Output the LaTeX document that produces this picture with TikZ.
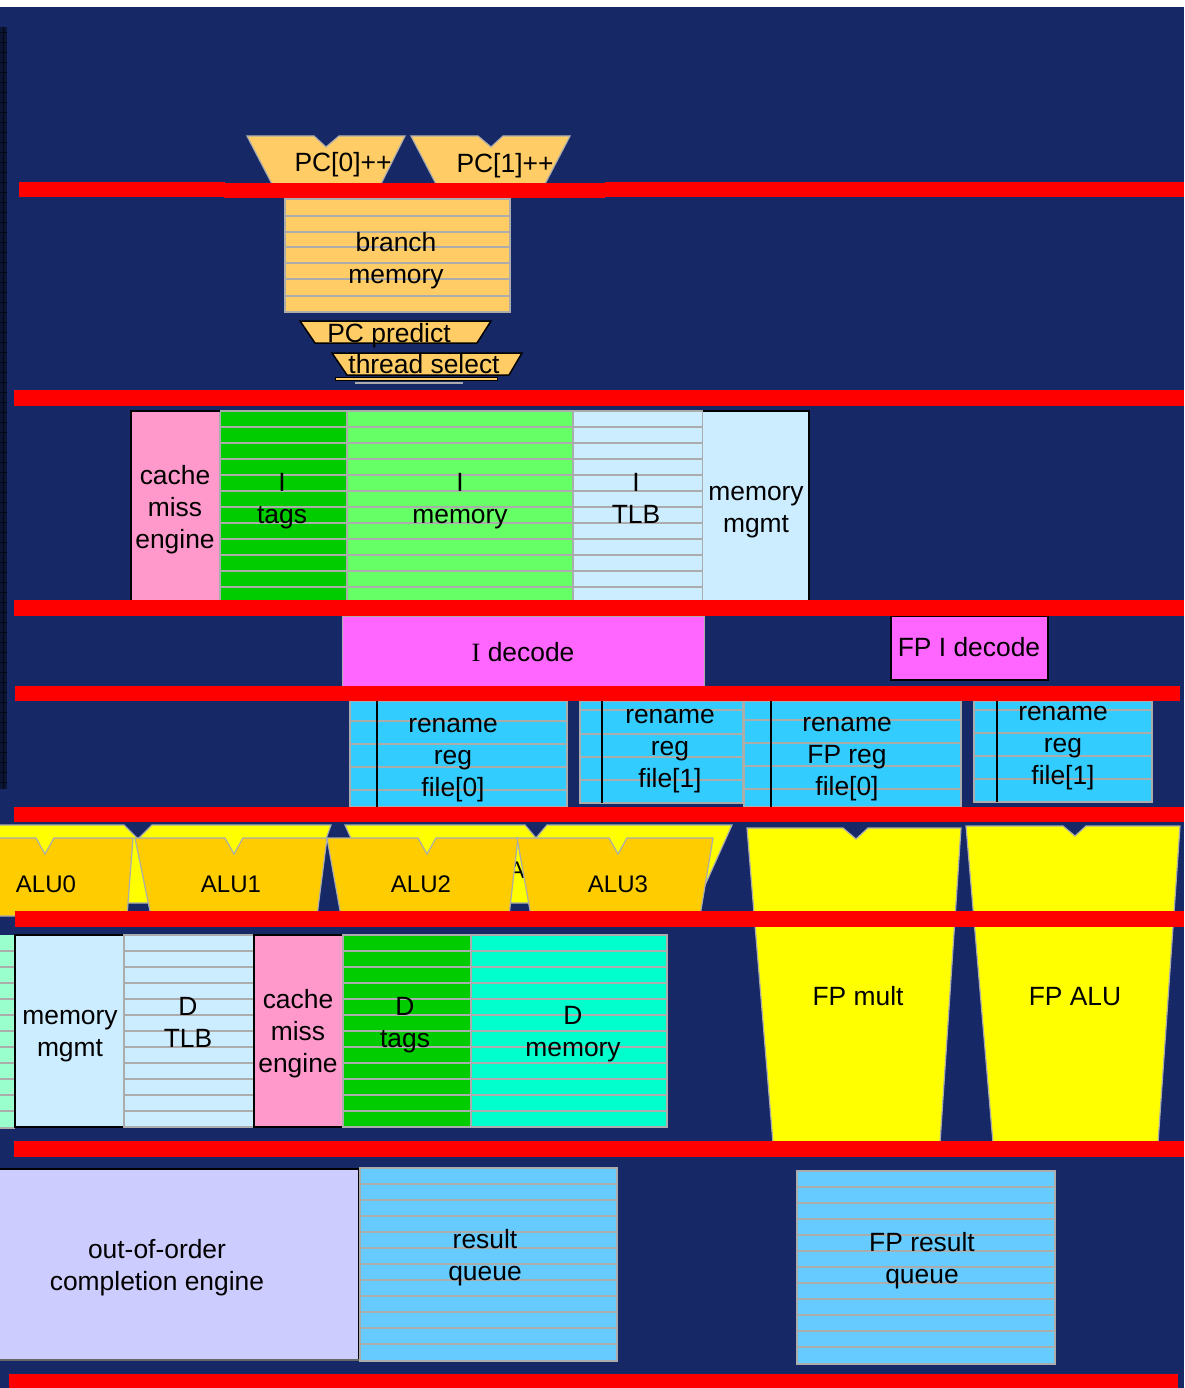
\documentclass[tikz,border=0pt]{standalone}
\usepackage{fontspec}
\setmainfont{Liberation Sans}
\newfontfamily\timesfont{Liberation Serif}

\definecolor{navy}{RGB}{22,41,102}
\definecolor{stripdark}{RGB}{12,22,52}
\definecolor{stripline}{RGB}{4,8,22}
\definecolor{barred}{RGB}{255,0,0}
\definecolor{linegray}{RGB}{172,172,172}
\definecolor{pcorange}{RGB}{255,204,102}
\definecolor{missPink}{RGB}{255,153,204}
\definecolor{tagsgreen}{RGB}{0,204,0}
\definecolor{memgreen}{RGB}{102,255,102}
\definecolor{tlbblue}{RGB}{204,236,255}
\definecolor{decmag}{RGB}{255,102,255}
\definecolor{regcyan}{RGB}{51,204,255}
\definecolor{aluorange}{RGB}{255,204,0}
\definecolor{fpyellow}{RGB}{255,255,0}
\definecolor{dmemaqua}{RGB}{0,255,204}
\definecolor{mint}{RGB}{153,255,204}
\definecolor{lavender}{RGB}{204,204,255}
\definecolor{queueblue}{RGB}{102,204,255}

% horizontal entry lines of a storage array: x-from, x-to, list of y values
\newcommand\rowlines[3]{\foreach \yy in {#3}{\draw[rowline] (#1,\yy) -- (#2,\yy);}}

\tikzset{
  rowline/.style={draw=linegray, line width=1.8pt},
  grayedge/.style={draw=linegray, line width=1.2pt},
  blackedge/.style={draw=black, line width=2pt},
  lbl/.style={font=\fontsize{26.4}{32}\selectfont, align=center, inner sep=0pt, text=black},
  alulbl/.style={font=\fontsize{24}{30}\selectfont, inner sep=0pt, text=black},
  redbar/.style={fill=barred, draw=none},
  pcshape/.style={fill=pcorange, draw=linegray, line width=1.2pt},
  selshape/.style={fill=pcorange, draw=black, line width=1.5pt},
  alushape/.style={fill=aluorange, draw=linegray, line width=1.2pt},
  fpshape/.style={fill=fpyellow, draw=linegray, line width=1.2pt},
}

\begin{document}
\begin{tikzpicture}[x=1pt, y=-1pt]
\clip (0,0) rectangle (1184,1388);
\useasboundingbox (0,0) rectangle (1184,1388);

% background
\fill[white] (0,0) rectangle (1184,7);
\fill[navy] (0,7) rectangle (1184,1388);

% dark strip on the left edge
\fill[stripdark] (0,27) rectangle (7,789);
\foreach \yy in {32,42,...,782}{\draw[stripline, line width=0.6pt] (0,\yy) -- (7,\yy);}
\draw[stripline, line width=0.6pt] (3.5,27) -- (3.5,789);

% ---------------- fetch: program counters and branch prediction
\path[pcshape] (247,136) -- (314,136) -- (326,147) -- (339,136) -- (405,136) -- (381,184) -- (272,184) -- cycle;
\node[lbl] (pc0) at (343,165) {\strut PC[0]++};
\path[pcshape] (411,136) -- (478,136) -- (491,147) -- (503,136) -- (570,136) -- (545,184) -- (436,184) -- cycle;
\node[lbl] (pc1) at (505,166) {\strut PC[1]++};

\fill[pcorange] (285,199) rectangle (510,312);
\rowlines{285}{510}{216,232,247,263,279,296}
\draw[grayedge] (285,199) rectangle (510,312);
\node[lbl] (bmem) at (396,261) {\strut branch\\\strut memory};

\path[selshape] (300,321) -- (491,321) -- (477,343) -- (315,343) -- cycle;
\node[lbl] (pcpred) at (389,336) {\strut PC predict};
\path[selshape] (332,353) -- (522,353) -- (509,375) -- (347,375) -- cycle;
\node[lbl] (thsel) at (424,367) {\strut thread select};
\filldraw[fill=pcorange, draw=black, line width=0.8pt] (335,377.5) rectangle (497,380.5);
\fill[linegray] (355,381.5) rectangle (463,384);

% ---------------- instruction cache
\fill[missPink] (131,411) rectangle (220,600);
\fill[tagsgreen] (220,411) rectangle (347,600);
\fill[memgreen] (347,411) rectangle (573,600);
\fill[tlbblue] (573,411) rectangle (703,600);
\rowlines{220}{703}{427,443,...,587}
\draw[grayedge] (220,411) -- (703,411);
\foreach \xx in {220,347,573,703}{\draw[grayedge] (\xx,411) -- (\xx,600);}
\draw[blackedge] (131,600) -- (131,411) -- (220,411);
\node[lbl] (imiss) at (175,510) {\strut cache\\\strut miss\\\strut engine};
\node[lbl] (itags) at (282,501) {\strut I\\\strut tags};
\node[lbl] (imem) at (460,501) {\strut I\\\strut memory};
\node[lbl] (itlb) at (636,501) {\strut I\\\strut TLB};
\fill[tlbblue] (703,411) rectangle (809,600);
\draw[blackedge] (703,411) -- (809,411) -- (809,600);
\node[lbl] (immu) at (756,510) {\strut memory\\\strut mgmt};

% ---------------- decode
\filldraw[fill=decmag, draw=linegray, line width=1pt] (342,616) rectangle (704,686);
\node[lbl] (idec) at (523,655) {\strut{\timesfont I} decode};
\filldraw[fill=decmag, draw=black, line width=1.6pt] (891,616) rectangle (1048,680);
\node[lbl] (fpdec) at (969,650) {\strut FP I decode};

% ---------------- rename register files
\fill[regcyan] (350,701) rectangle (567,807);
\rowlines{350}{567}{721,744,767,790}
\draw[grayedge] (350,701) rectangle (567,807);
\draw[black, line width=1.4pt] (377,701) -- (377,807);
\node[lbl] (ren0) at (453,758) {\strut rename\\\strut reg\\\strut file[0]};

\fill[regcyan] (580,701) rectangle (743,803);
\rowlines{580}{743}{710,734,757,780}
\draw[grayedge] (580,701) rectangle (743,803);
\draw[black, line width=1.4pt] (602,701) -- (602,803);
\node[lbl] (ren1) at (670,749) {\strut rename\\\strut reg\\\strut file[1]};

\fill[regcyan] (744,701) rectangle (961,807);
\rowlines{744}{961}{720,743,766,789}
\draw[grayedge] (744,701) rectangle (961,807);
\draw[black, line width=1.4pt] (771,701) -- (771,807);
\node[lbl] (fpren0) at (847,757) {\strut rename\\\strut FP reg\\\strut file[0]};

\fill[regcyan] (974,701) rectangle (1152,802);
\rowlines{974}{1152}{710,733,756,779}
\draw[grayedge] (974,701) rectangle (1152,802);
\draw[black, line width=1.4pt] (997,701) -- (997,802);
\node[lbl] (fpren1) at (1063,746) {\strut rename\\\strut reg\\\strut file[1]};

% ---------------- execute: integer ALUs (with the earlier wide units behind) and FP units
\path[fpshape] (-55,825) -- (124,825) -- (138,839) -- (152,825) -- (331,825) -- (303,903) -- (-30,903) -- cycle;
\path[fpshape] (345,825) -- (525,825) -- (536,838) -- (547,825) -- (732,825) -- (697,903) -- (380,903) -- cycle;
\node[alulbl] (aluback) at (532,872) {\strut ALU};

\path[alushape] (-60,838) -- (36,838) -- (45,854) -- (54,838) -- (133,838) -- (127,916) -- (-60,916) -- cycle;
\node[alulbl] (alu0) at (46,886) {\strut ALU0};
\path[alushape] (135,838) -- (225,838) -- (234,854) -- (243,838) -- (327,838) -- (317,916) -- (151,916) -- cycle;
\node[alulbl] (alu1) at (231,886) {\strut ALU1};
\path[alushape] (327,838) -- (418,838) -- (427,854) -- (436,838) -- (518,838) -- (509,916) -- (341,916) -- cycle;
\node[alulbl] (alu2) at (421,886) {\strut ALU2};
\path[alushape] (517,838) -- (609,838) -- (618,854) -- (627,838) -- (713,838) -- (700,916) -- (531,916) -- cycle;
\node[alulbl] (alu3) at (618,886) {\strut ALU3};

\path[fpshape] (747,828) -- (843,828) -- (856,839) -- (868,828) -- (961,828) -- (940,1143) -- (773,1143) -- cycle;
\node[lbl] (fpmul) at (858,999) {\strut FP mult};
\path[fpshape] (966,826) -- (1063,826) -- (1075,836) -- (1086,826) -- (1180,826) -- (1158,1143) -- (993,1143) -- cycle;
\node[lbl] (fpalu) at (1075,999) {\strut FP ALU};

% ---------------- data cache
\fill[mint] (-2,935) rectangle (15,1128);
\rowlines{-2}{15}{951,967,...,1111}
\draw[grayedge] (-2,1128) -- (15,1128);
\fill[tlbblue] (15,935) rectangle (124,1127);
\draw[blackedge] (15,935) rectangle (124,1127);
\node[lbl] (dmmu) at (70,1034) {\strut memory\\\strut mgmt};

\fill[tlbblue] (124,935) rectangle (254,1127);
\rowlines{124}{254}{951,967,...,1111}
\draw[grayedge] (124,935) rectangle (254,1127);
\node[lbl] (dtlb) at (188,1025) {\strut D\\\strut TLB};

\fill[missPink] (254,935) rectangle (343,1127);
\draw[blackedge] (254,935) rectangle (343,1127);
\node[lbl] (dmiss) at (298,1034) {\strut cache\\\strut miss\\\strut engine};

\fill[tagsgreen] (343,935) rectangle (471,1127);
\fill[dmemaqua] (471,935) rectangle (667,1127);
\rowlines{343}{667}{951,967,...,1111}
\draw[grayedge] (343,935) rectangle (667,1127);
\draw[grayedge] (471,935) -- (471,1127);
\node[lbl] (dtags) at (405,1025) {\strut D\\\strut tags};
\node[lbl] (dmem) at (573,1034) {\strut D\\\strut memory};

% ---------------- completion
\fill[lavender] (-2,1169) rectangle (359,1360);
\draw[black, line width=1.6pt] (-2,1169) -- (359,1169) -- (359,1360);
\draw[black!60, line width=1.6pt] (-2,1360) -- (359,1360);
\node[lbl] (ooo) at (157,1268) {\strut out-of-order\\\strut completion engine};

\fill[queueblue] (360,1168) rectangle (617,1361);
\rowlines{360}{617}{1184,1200,...,1344}
\draw[grayedge] (360,1168) rectangle (617,1361);
\node[lbl] (resq) at (485,1258) {\strut result\\\strut queue};

\fill[queueblue] (797,1171) rectangle (1055,1364);
\rowlines{797}{1055}{1187,1203,...,1347}
\draw[grayedge] (797,1171) rectangle (1055,1364);
\node[lbl] (fpresq) at (922,1261) {\strut FP result\\\strut queue};

% ---------------- pipeline registers
\path[redbar] (19,182) rectangle (225,197);
\path[redbar] (224,183) rectangle (605,198);
\path[redbar] (605,182) rectangle (1184,197);
\path[redbar] (14,390) rectangle (1184,406);
\path[redbar] (14,600) rectangle (1184,616);
\path[redbar] (15,686) rectangle (1180,701);
\path[redbar] (14,807) rectangle (1184,822);
\path[redbar] (15,911) rectangle (1184,927);
\path[redbar] (14,1141) rectangle (1184,1157);
\path[redbar] (9,1374) rectangle (1178,1388);
\end{tikzpicture}
\end{document}
